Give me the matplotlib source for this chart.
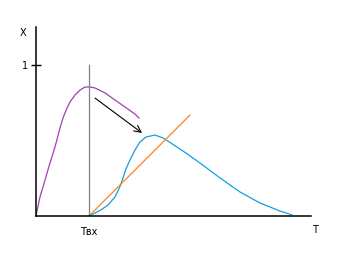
import matplotlib
matplotlib.use('Agg')
import matplotlib.pyplot as plt

# --- Data (time in units of Tвх, X normalised to 1) ---
purple_t = [0.0, 0.075, 0.17, 0.264, 0.358, 0.453, 0.509, 0.585, 0.642, 0.736, 0.830,
            0.925, 1.019, 1.113, 1.302, 1.491, 1.679, 1.868, 1.943]
purple_x = [0.0, 0.126, 0.238, 0.351, 0.457, 0.583, 0.649, 0.715, 0.755, 0.801, 0.834,
            0.854, 0.854, 0.848, 0.815, 0.768, 0.722, 0.675, 0.649]

blue_t = [1.0, 1.113, 1.226, 1.358, 1.491, 1.585, 1.642, 1.698, 1.774, 1.868, 1.962,
          2.075, 2.245, 2.396, 2.547, 2.830, 3.094, 3.472, 3.849, 4.226, 4.604, 4.83]
blue_x = [0.0, 0.020, 0.040, 0.073, 0.126, 0.195, 0.252, 0.313, 0.371, 0.437, 0.490,
          0.523, 0.536, 0.517, 0.483, 0.417, 0.351, 0.252, 0.159, 0.086, 0.033, 0.007]

orange_t = [1.0, 2.906]
orange_x = [0.0, 0.669]

t_in = 1.0          # Tвх
arrow_from = (1.113, 0.781)
arrow_to = (2.0, 0.550)

W, H = 346, 263
fig = plt.figure(figsize=(W / 100, H / 100), dpi=100)
ax = fig.add_axes([36 / W, (H - 216) / H, 275 / W, 189 / H])
ax.set_xlim(0, 275 / 53)
ax.set_ylim(0, 189 / 151)

for s in ['top', 'right']:
    ax.spines[s].set_visible(False)
for s in ['left', 'bottom']:
    ax.spines[s].set_color('black')
    ax.spines[s].set_linewidth(1.1)

ax.plot(purple_t, purple_x, color='#a040b0', lw=0.9)
ax.plot(blue_t, blue_x, color='#10a0e0', lw=0.9)
ax.plot(orange_t, orange_x, color='#ff8020', lw=0.9)
ax.plot([t_in, t_in], [0, 1.0], color='#808080', lw=0.9)

ax.annotate('', xy=arrow_to, xytext=arrow_from,
            arrowprops=dict(arrowstyle='->', color='black', lw=0.8,
                            shrinkA=0, shrinkB=0, mutation_scale=12))

ax.set_yticks([1])
ax.set_yticklabels(['1'], fontsize=7)
ax.tick_params(axis='y', direction='inout', length=7, width=1, pad=2)
ax.set_xticks([t_in])
ax.set_xticklabels(['Tвх'], fontsize=7)
ax.tick_params(axis='x', length=0, pad=8)

ax.text(-0.24, 1.21, 'X', fontsize=7, ha='center', va='center')
ax.text(5.27, -0.09, 'T', fontsize=7, ha='center', va='center', clip_on=False)

fig.savefig('out.png', dpi=100)
